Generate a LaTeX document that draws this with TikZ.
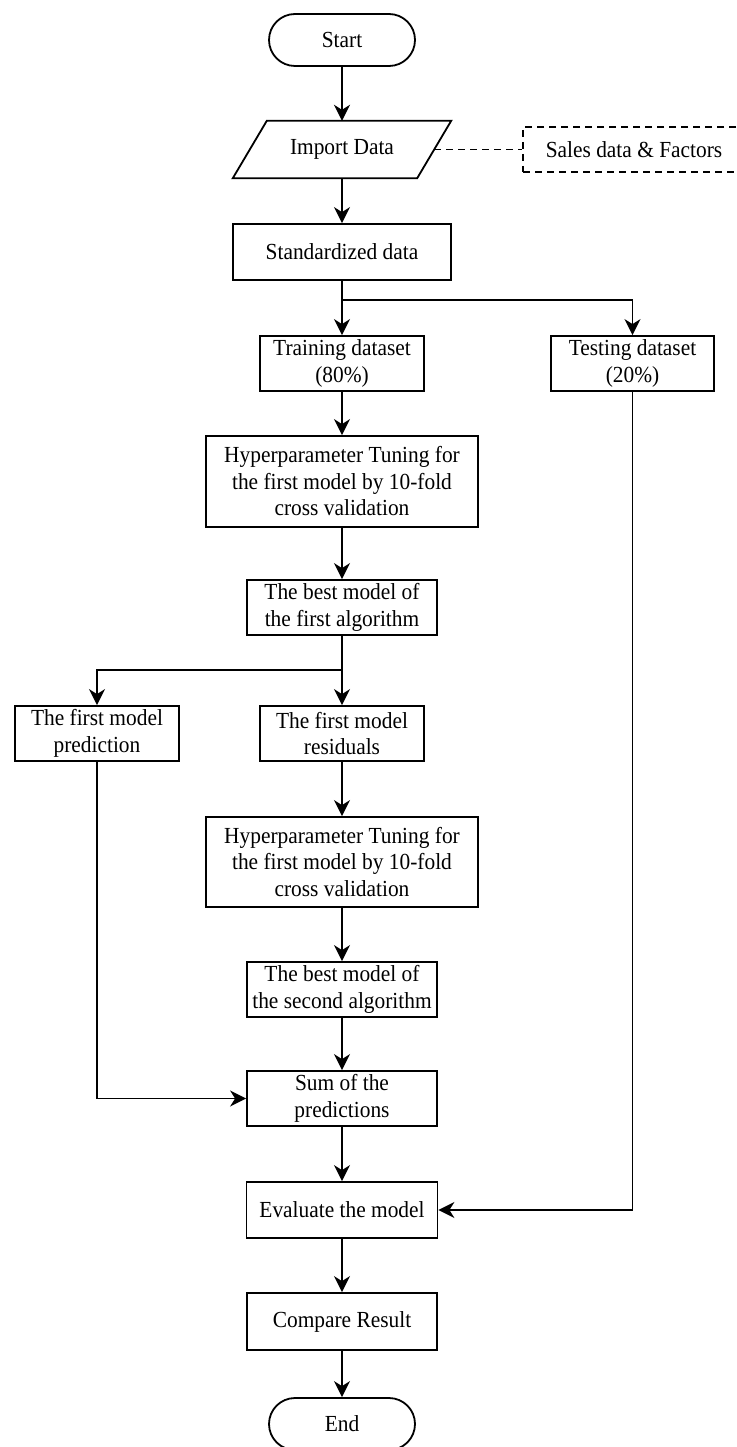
\documentclass[tikz,border=0pt]{standalone}
\usepackage{fontspec}
\setmainfont{Liberation Serif}[FakeStretch=0.93]
\usetikzlibrary{arrows.meta}
\begin{document}
\begin{tikzpicture}[x=1pt,y=1pt,
  every node/.style={font=\fontsize{23}{26.5}\selectfont, align=center, inner sep=0pt},
  box/.style={draw, line width=1.8pt, minimum height=55pt},
  term/.style={draw, line width=1.8pt, rounded corners=26pt, minimum width=146pt, minimum height=52pt},
  flow/.style={line width=1.8pt, -{Stealth[length=16pt,width=16pt,inset=5pt]}},
  dashline/.style={line width=1.5pt, dash pattern=on 7pt off 5pt},
]
\useasboundingbox (0,0) rectangle (736,-1447);

% terminator and input
\node[term] (start) at (342,-40) {Start};
\node[minimum width=184pt, minimum height=57pt] (imp) at (342,-149.5) {Import Data};
\draw[line width=1.8pt] ([xshift=-17pt]imp.south west) -- ([xshift=17pt]imp.north west)
  -- ([xshift=17pt]imp.north east) -- ([xshift=-17pt]imp.south east) -- cycle;
\node[draw, dashline, minimum width=222pt, minimum height=45pt] (sales) at (634,-149.5) {Sales data \& Factors};

% process boxes
\node[box, minimum width=218pt, minimum height=56pt] (std) at (342,-252) {Standardized data};
\node[box, minimum width=164pt] (train) at (342,-363.5) {Training dataset\\(80\%)};
\node[box, minimum width=163pt] (test) at (632.5,-363.5) {Testing dataset\\(20\%)};
\node[box, minimum width=272pt, minimum height=91pt] (hyp1) at (342,-481.5) {Hyperparameter Tuning for\\the first model by 10-fold\\cross validation};
\node[box, minimum width=190pt] (best1) at (342,-607.5) {The best model of\\the first algorithm};
\node[box, minimum width=164pt] (pred) at (97,-733.5) {The first model\\prediction};
\node[box, minimum width=164pt] (resid) at (342,-733.5) {The first model\\residuals};
\node[box, minimum width=272pt, minimum height=90pt] (hyp2) at (342,-862) {Hyperparameter Tuning for\\the first model by 10-fold\\cross validation};
\node[box, minimum width=190pt] (best2) at (342,-989.5) {The best model of\\the second algorithm};
\node[box, minimum width=190pt] (sum) at (342,-1098.5) {Sum of the\\predictions};
\node[box, minimum width=191pt, minimum height=56pt] (eval) at (342,-1210) {Evaluate the model};
\node[box, minimum width=190pt, minimum height=57pt] (comp) at (342,-1321.5) {Compare Result};
\node[term] (end) at (342,-1424) {End};

% branch points
\coordinate (split1) at (342,-300);
\coordinate (split2) at (342,-670);

% connectors
\draw[dashline] (imp.east) -- (sales.west);
\draw[flow] (start) -- (imp);
\draw[flow] (imp) -- (std);
\draw[flow] (std) -- (train);
\draw[flow] (split1) -| (test.north);
\draw[flow] (train) -- (hyp1);
\draw[flow] (hyp1) -- (best1);
\draw[flow] (best1) -- (resid);
\draw[flow] (split2) -| (pred.north);
\draw[flow] (resid) -- (hyp2);
\draw[flow] (hyp2) -- (best2);
\draw[flow] (best2) -- (sum);
\draw[flow] (pred.south) |- (sum.west);
\draw[flow] (sum) -- (eval);
\draw[flow] (test.south) |- (eval.east);
\draw[flow] (eval) -- (comp);
\draw[flow] (comp) -- (end);
\end{tikzpicture}
\end{document}
